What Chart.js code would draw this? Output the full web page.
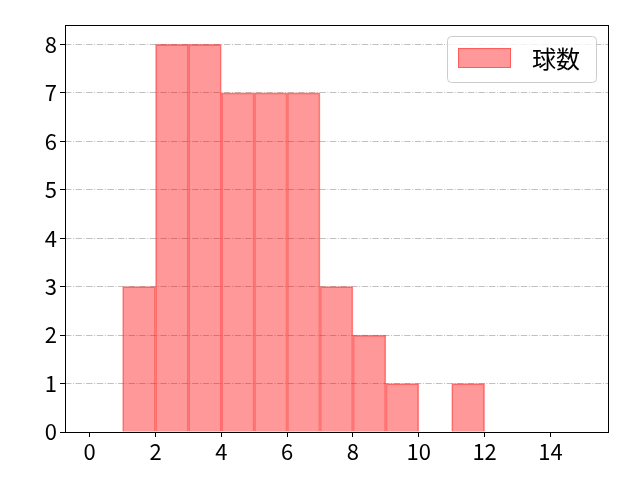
<!DOCTYPE html>
<html><head><meta charset="utf-8">
<script src="https://cdn.jsdelivr.net/npm/chart.js@4"></script>
<style>html,body{margin:0;padding:0;background:#fff}#w{width:640px;height:480px}</style>
</head><body><div id="w"><canvas id="c" width="640" height="480"></canvas></div>
<script>
const binCenters = [1.5,2.5,3.5,4.5,5.5,6.5,7.5,8.5,9.5,10.5,11.5];
const counts = [3,8,8,7,7,7,3,2,1,0,1];
const xTicks = [0,2,4,6,8,10,12,14];
const yTicks = [0,1,2,3,4,5,6,7,8];
const seriesLabel = '球数';
const FONT = "'Noto Sans CJK JP', 'DejaVu Sans', sans-serif";

const frame = {
  id:'frame',
  afterDatasetsDraw(chart){
    const {ctx, chartArea:a} = chart;
    ctx.save();
    ctx.strokeStyle='#000'; ctx.lineWidth=1;
    ctx.strokeRect(Math.round(a.left)+0.5, Math.round(a.top)+0.5, Math.round(a.right-a.left), Math.round(a.bottom-a.top));
    // legend
    const bx=447.5, by=36.5, bw=149, bh=46;
    ctx.fillStyle='rgba(255,255,255,0.8)';
    ctx.strokeStyle='#cccccc';
    ctx.beginPath();
    if (ctx.roundRect) ctx.roundRect(bx,by,bw,bh,4); else ctx.rect(bx,by,bw,bh);
    ctx.fill(); ctx.stroke();
    ctx.fillStyle='rgba(255,0,0,0.4)';
    ctx.strokeStyle='rgba(255,0,0,0.4)';
    ctx.fillRect(458,48,53,20);
    ctx.strokeRect(458.5,48.5,52,19);
    ctx.fillStyle='#000';
    ctx.font='24px '+FONT;
    ctx.textBaseline='middle';
    ctx.fillText(seriesLabel,532,59);
    ctx.restore();
  }
};

new Chart(document.getElementById('c'), {
  type:'bar',
  data:{datasets:[{
    label:seriesLabel,
    data:binCenters.map((x,i)=>({x:x,y:counts[i]})),
    backgroundColor:'rgba(255,0,0,0.4)',
    borderColor:'rgba(255,0,0,0.45)',
    borderWidth:1,
    barPercentage:1, categoryPercentage:1
  }]},
  options:{
    responsive:false, animation:false, devicePixelRatio:1,
    layout:{padding:{left:0,right:32,top:25,bottom:0}},
    plugins:{legend:{display:false}, tooltip:{enabled:false}},
    scales:{
      x:{type:'linear', min:-0.75, max:15.75, offset:false,
        afterBuildTicks(s){ s.ticks = xTicks.map(v=>({value:v})); },
        afterFit(s){ s.height=48; },
        grid:{offset:false, drawOnChartArea:false, drawTicks:true, tickLength:5, color:'#000'},
        border:{display:false},
        ticks:{color:'#000', font:{family:FONT,size:22}, padding:1, maxRotation:0, autoSkip:false}
      },
      y:{min:0, max:8.4,
        afterBuildTicks(s){ s.ticks = yTicks.map(v=>({value:v})); },
        afterFit(s){ s.width=65; },
        grid:{color:'#b0b0b0', lineWidth:0.8, drawTicks:true, tickLength:5, tickColor:'#000', tickBorderDash:[], tickWidth:1},
        border:{display:false, dash:[6.4,1.6,1,1.6]},
        ticks:{color:'#000', font:{family:FONT,size:22}, padding:3}
      }
    }
  },
  plugins:[frame]
});
</script></body></html>
